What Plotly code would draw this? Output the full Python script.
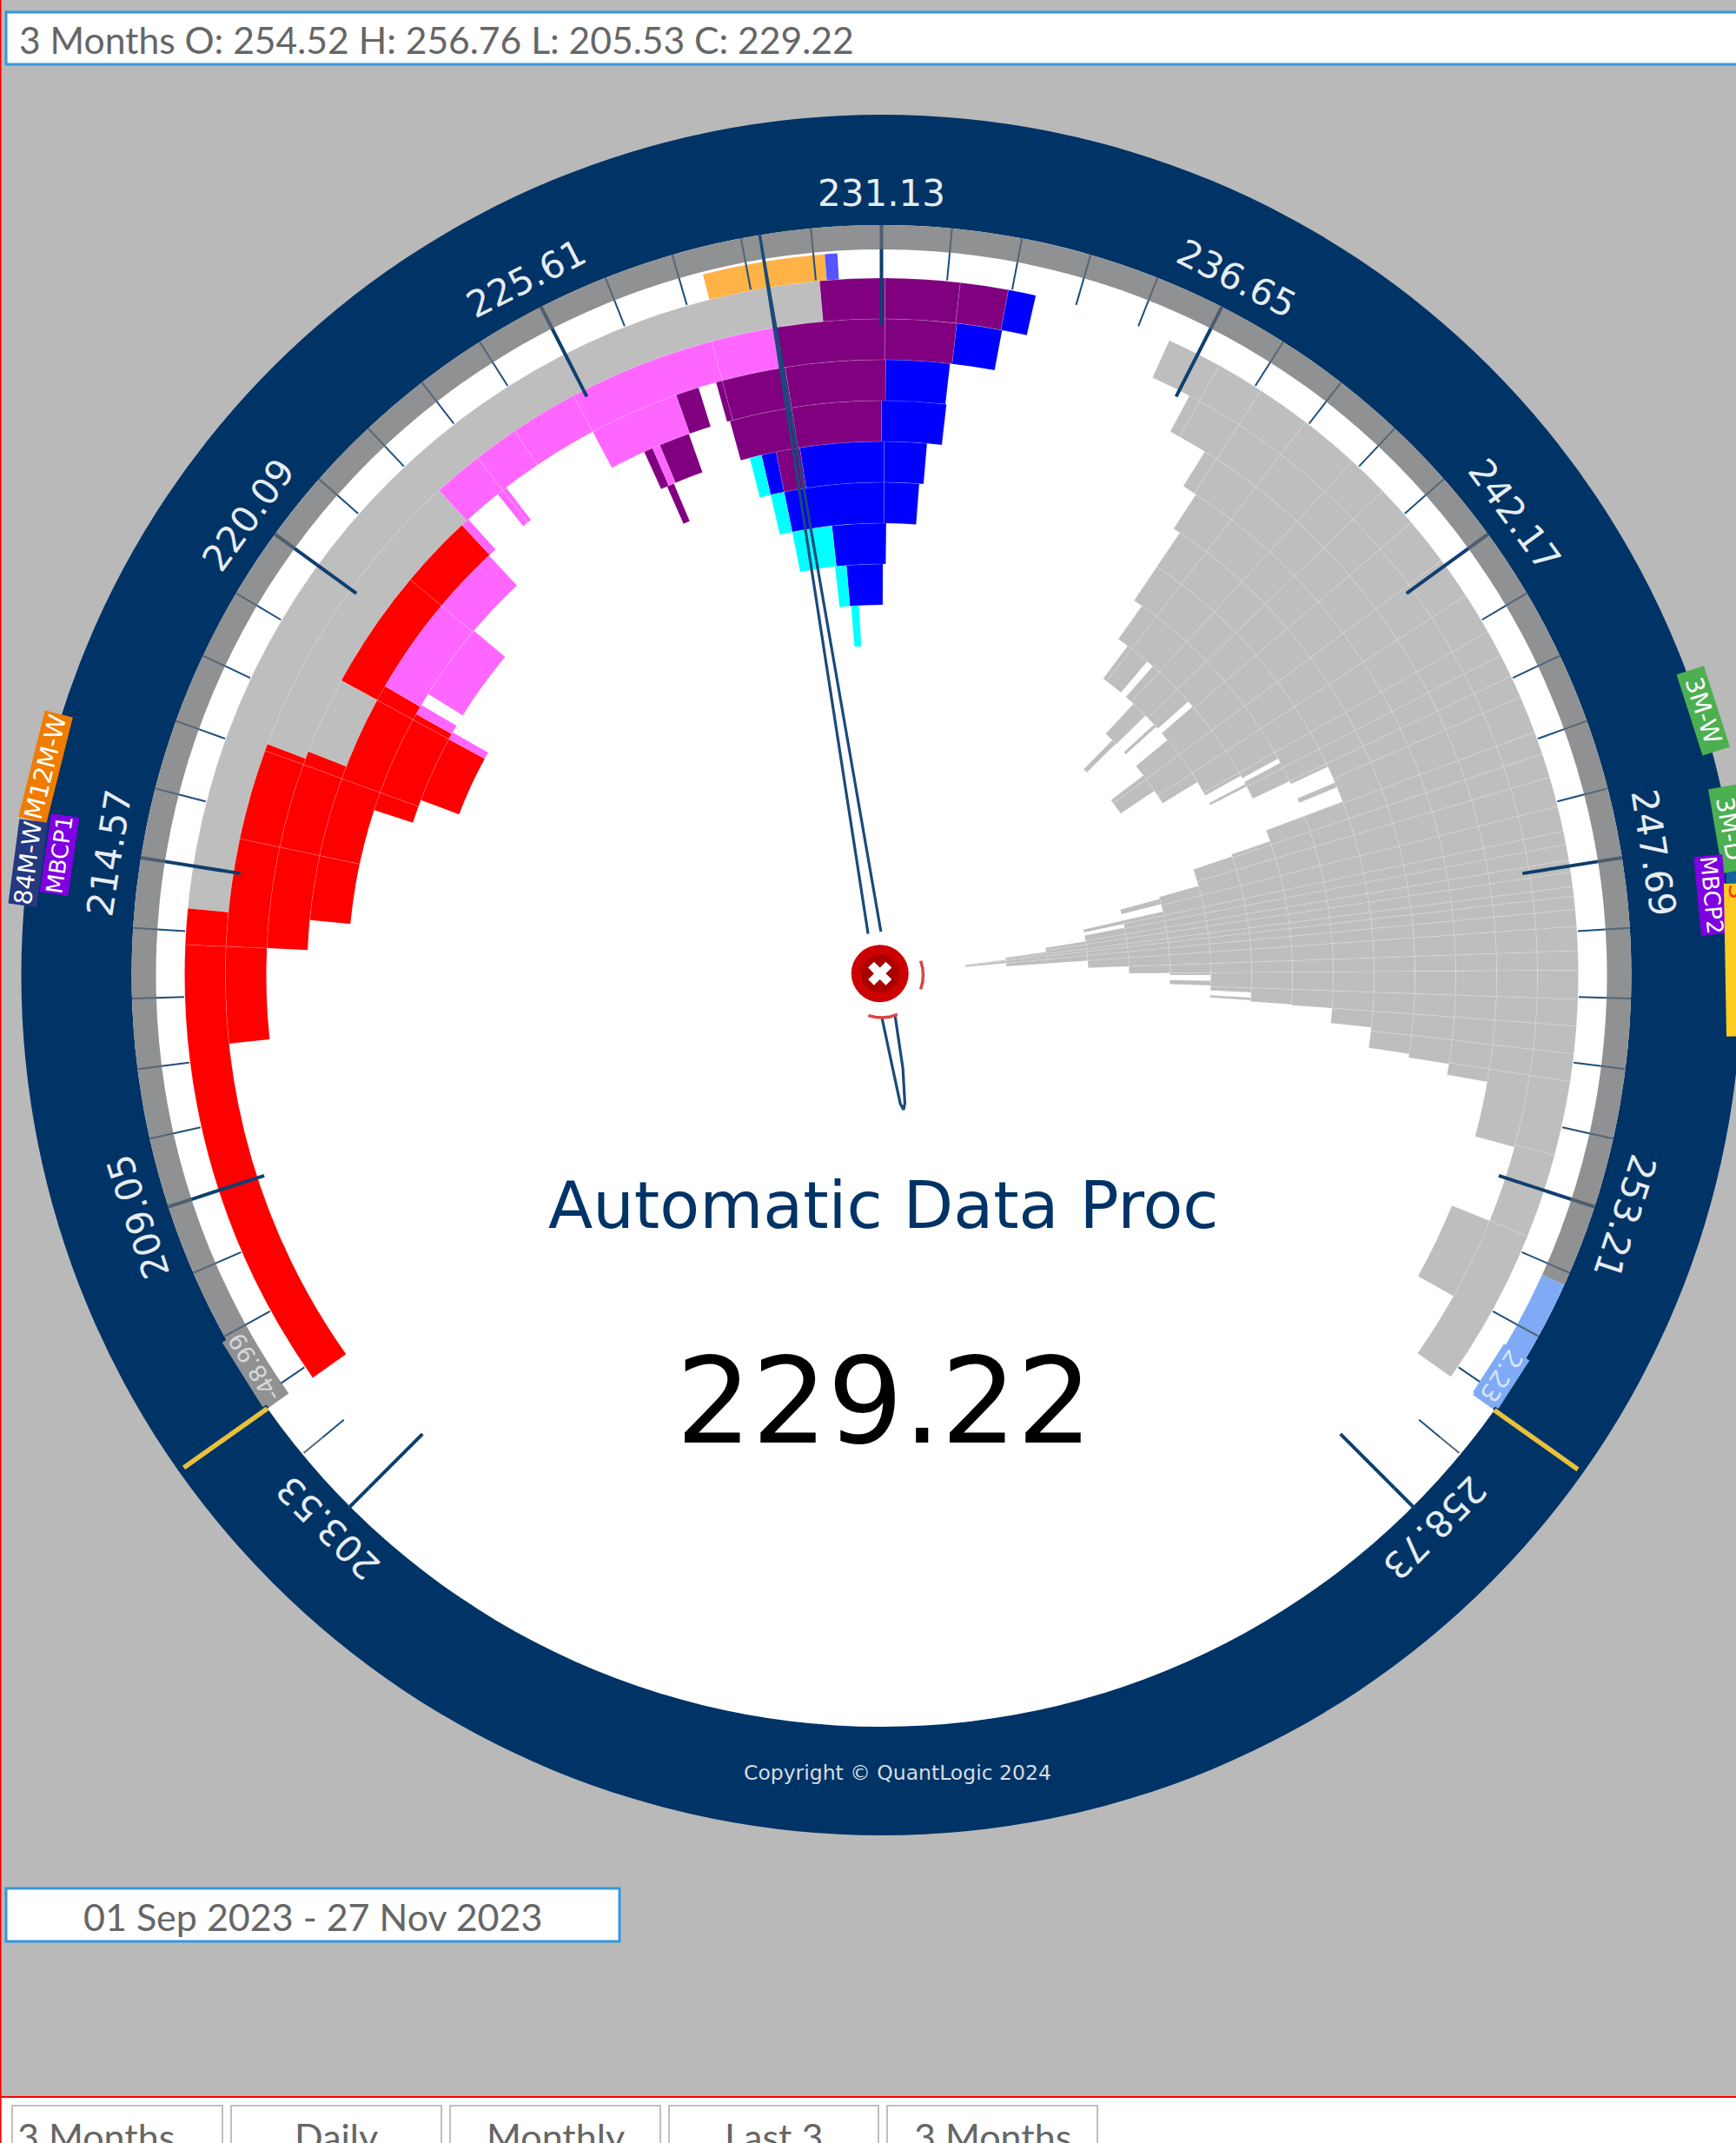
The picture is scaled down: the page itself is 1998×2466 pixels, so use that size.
import math
import plotly.graph_objects as go

W, H = 1998, 2466
CX, CY = 1014.5, 1122.0
R_AXIS = 983
R_RING = 990
R_DISC = 865
R_BAND = 863
ROW0_TOP = 802
ROW_H = 47

# price scale
PRICE_ZERO = 231.13
DEG_PER_PRICE = 27 / 5.52
MAJOR_PRICES = [203.53, 209.05, 214.57, 220.09, 225.61, 231.13, 236.65, 242.17, 247.69, 253.21, 258.73]
MAJOR_LABELS = ["203.53", "209.05", "214.57", "220.09", "225.61", "231.13", "236.65", "242.17", "247.69", "253.21", "258.73"]
OPEN, HIGH, LOW, CLOSE = 254.52, 256.76, 205.53, 229.22

# profile rows: {row: [(theta_start, theta_end), ...]}
GRAY = {
    0: [(-84.5, -5.1), (24.4, 125.2)],
    1: [(-69.4, -42.4), (28, 105.2), (112, 119.3)],
    2: [(-68.7, -61.4), (31.7, 100)],
    3: [(33.2, 98.9)],
    4: [(34, 98.5)],
    5: [(34, 65), (67, 67.6), (69.4, 96.1)],
    6: [(35.2, 61.4), (62, 64.6), (69.4, 94.2)],
    7: [(36.8, 40.3), (41.3, 48.3), (49.2, 61), (62.3, 62.7), (71, 94.1)],
    8: [(42.9, 45.5), (47.4, 47.9), (50.6, 58.6), (71.3, 92.7), (93.5, 93.9)],
    9: [(44.5, 45.4), (52.7, 56), (74.3, 90), (91, 91.8)],
    10: [(74.7, 75.8), (77.3, 89.6)],
    11: [(77.3, 78.1), (79, 88)],
    12: [(80.6, 86)],
    13: [(82, 86)],
    14: [(83, 84.5)],
}
RED = {
    0: [(-125.3, -84.5)],
    1: [(-96, -69.4)],
    2: [(-87.5, -68.7), (-61.4, -43)],
    3: [(-84.5, -59.8)],
    4: [(-72, -60.7)],
    5: [(-69.2, -61.4)],
}
MAGENTA = {
    1: [(-42.4, -9.2)],
    2: [(-43, -42.2), (-38.6, -37.6), (-28, -19.5)],
    3: [(-59.8, -43.1), (-23.5, -22.7)],
    4: [(-60.7, -59.6), (-58.2, -49.8)],
    5: [(-61.4, -60.5)],
}
PURPLE = {
    0: [(-5.1, 10.5)],
    1: [(-9.2, 6.6)],
    2: [(-19.5, -17.3), (-15.6, 0.4)],
    3: [(-24.4, -23.5), (-22.7, -19.6), (-15.3, 0)],
    4: [(-23.7, -22.9), (-11.4, -8.8)],
}
BLUE = {
    0: [(10.5, 12.8)],
    1: [(6.6, 10.6)],
    2: [(0.4, 6.4)],
    3: [(0, 6.5)],
    4: [(-13, -11.4), (-8.8, 4.9)],
    5: [(-11.4, 4.4)],
    6: [(-6.3, 0.6)],
    7: [(-4.9, 0.2)],
}
CYAN = {
    4: [(-14.3, -13)],
    5: [(-13, -11.4)],
    6: [(-11.4, -6.3)],
    7: [(-6.5, -4.9)],
    8: [(-4.7, -3.5)],
}
ORANGE_SPAN = [(-14.3, -4.5)]
VIOLET_SPAN = [(-4.5, -3.5)]

# column divisions visible inside the profile
GRID_THETA = [-87.5, -78, -70, -61.4, -50, -38, -34, -28, -15, -9, 0.3, 6.5,
              29, 33, 37.5, 42.5, 46, 49.5, 53.5, 57, 60.5, 62.7, 64.6, 66.5, 69.6, 71.5, 73.5, 76,
              78.1, 79.2, 80.5, 81.5, 82.7, 83.5, 84.6, 86, 88, 89.6, 92, 94.2, 96.5, 98.8, 105, 112]

TAGS = [
    ("M12M-W", -76.0, 991, "#f07c00", 28.5, 125),
    ("84M-W", -82.5, 991, "#24397f", 28, 97),
    ("MBCP1", -81.7, 956, "#7f00e0", 26, 90),
    ("3M-W", 72.2, 993, "#4caf50", 28, 97),
    ("3M-D", 80.2, 990, "#4caf50", 28, 97),
    ("MBCP2", 84.5, 960, "#7f00e0", 26, 90),
]


def px(theta, r):
    return CX + r * math.sin(math.radians(theta))


def py(theta, r):
    return CY - r * math.cos(math.radians(theta))


def ang(price):
    return (price - PRICE_ZERO) * DEG_PER_PRICE


def paper(x, y):
    return x / W, 1 - y / H


def split(a, b, grid):
    cuts = [a] + [g for g in grid if a + 0.3 < g < b - 0.3] + [b]
    return list(zip(cuts[:-1], cuts[1:]))


def profile_trace(rows, color, grid=GRID_THETA):
    th, wd, base, rr = [], [], [], []
    for k, spans in rows.items():
        for a, b in spans:
            for s, e in split(a, b, grid):
                th.append(((s + e) / 2) % 360)
                wd.append(e - s)
                base.append(ROW0_TOP - ROW_H * (k + 1))
                rr.append(ROW_H)
    return go.Barpolar(theta=th, width=wd, base=base, r=rr,
                       marker=dict(color=color, line=dict(color="rgba(255,255,255,0.2)", width=0.7)),
                       hoverinfo="skip", showlegend=False)


def band_trace(a, b, r0, r1, color):
    return go.Barpolar(theta=[((a + b) / 2) % 360], width=[b - a], base=[r0], r=[r1 - r0],
                       marker=dict(color=color, line=dict(width=0)), hoverinfo="skip", showlegend=False)


def line_trace(r, theta, color, width):
    return go.Scatterpolar(r=r, theta=theta, mode="lines", line=dict(color=color, width=width),
                           hoverinfo="skip", showlegend=False, connectgaps=False, cliponaxis=False)


fig = go.Figure()

# gauge bands, and the white disc's slightly larger open part at the bottom
fig.add_trace(band_trace(ang(HIGH), 360 + ang(LOW), R_BAND - 4, R_DISC, "#ffffff"))
fig.add_trace(band_trace(ang(LOW), ang(OPEN), 835, R_BAND, "#909192"))
fig.add_trace(band_trace(ang(OPEN), ang(HIGH), 835, R_BAND, "#7faaf5"))

GRAY_GRID = [g for g in GRID_THETA if g > 0]
fig.add_trace(profile_trace(GRAY, "#bebebe", GRAY_GRID))
for rows, col in [(RED, "#ff0000"), (MAGENTA, "#ff66ff"),
                  (PURPLE, "#800080"), (BLUE, "#0000ff"), (CYAN, "#00ffff")]:
    fig.add_trace(profile_trace(rows, col))
for a, b in ORANGE_SPAN:
    fig.add_trace(band_trace(a, b, ROW0_TOP, 832, "#ffb347"))
for a, b in VIOLET_SPAN:
    fig.add_trace(band_trace(a, b, ROW0_TOP, 832, "#5555ff"))

# ticks
maj_th = [ang(p) for p in MAJOR_PRICES]
min_th = [maj_th[0] + 5.4 * i for i in range(51) if i % 5 != 0]


def tick_seg(thetas, r0, r1):
    r, t = [], []
    for a in thetas:
        r += [r0, r1, None]
        t += [a, a, None]
    return r, t


def outside_band(th):
    return th < ang(LOW) or th > ang(HIGH)


r, t = tick_seg(min_th, 803, 835)
fig.add_trace(line_trace(r, t, "#1d4f7c", 2))
r, t = tick_seg(min_th, 835, R_BAND)
fig.add_trace(line_trace(r, t, "#566675", 2))
r, t = tick_seg(maj_th, 747, 835)
fig.add_trace(line_trace(r, t, "#0f3f6f", 4))
r, t = tick_seg([a for a in maj_th if not outside_band(a)], 835, R_BAND)
fig.add_trace(line_trace(r, t, "#4d5e6f", 4))
r, t = tick_seg([a for a in maj_th if outside_band(a)], 835, 868)
fig.add_trace(line_trace(r, t, "#0f3f6f", 4))

# high / low markers on the ring
for p in (LOW, HIGH):
    fig.add_trace(line_trace([R_DISC, R_AXIS], [ang(p), ang(p)], "#e8c23a", 5.5))

# needle
nd = ang(CLOSE)
fig.add_trace(line_trace([50, R_BAND, 50], [nd - 8.6, nd, nd + 8.6], "#1a4a7a", 3.2))
tail = nd + 180
fig.add_trace(line_trace([50, 110, 150, 157, 150, 110, 50],
                         [tail - 9, tail - 3.6, tail - 1, tail, tail + 1, tail + 2.4, tail + 8.5],
                         "#1a4a7a", 3.2))

# hub
fig.add_trace(line_trace([48] * 5, [70, 80, 90, 100, 110], "#dd4444", 3.5))
fig.add_trace(line_trace([49] * 5, [158, 168, 178, 188, 198], "#dd4444", 3.5))
fig.add_trace(go.Scatterpolar(r=[2.5, 2.5, 2.5], theta=[-45, -45, -45], mode="markers",
                              marker=dict(size=[66, 44, 24], color=["#cc0000", "#aa0000", "#ffffff"],
                                          symbol=["circle", "circle", "x"], line=dict(width=0), opacity=1),
                              hoverinfo="skip", showlegend=False))

# decorative page layout
shapes = []


def rect(x0, y0, x1, y1, fill, line=None, lw=0, layer="below"):
    shapes.append(dict(type="rect", xref="paper", yref="paper", x0=x0 / W, x1=x1 / W, y0=1 - y0 / H, y1=1 - y1 / H,
                       fillcolor=fill, line=dict(color=line or fill, width=lw), layer=layer))


def circle(r, fill):
    shapes.append(dict(type="circle", xref="paper", yref="paper", x0=(CX - r) / W, x1=(CX + r) / W,
                       y0=1 - (CY + r) / H, y1=1 - (CY - r) / H, fillcolor=fill, line=dict(width=0), layer="below"))


circle(R_RING, "#003366")
circle(R_BAND, "#ffffff")
rect(7, 14, 2010, 74, "#ffffff", "#3498db", 3)
rect(7, 2173, 713, 2234, "#ffffff", "#3498db", 3)
rect(0, 2414, W, H, "#ffffff")
rect(0, 2412, W, 2414, "#ff0000")
rect(0, 0, 1.6, H, "#ff0000")
BUTTON_X = [(14, 256), (266, 508), (518, 760), (770, 1011), (1021, 1263)]
for a, b in BUTTON_X:
    rect(a, 2423, b, 2480, "#ffffff", "#aaaaaa", 1.5)
rect(1987, 1002, 2000, 1016, "#12609f")

ann = []


def text(s, x, y, size, color, font="DejaVu Sans", angle=0, xanchor="center", **kw):
    X, Y = paper(x, y)
    ann.append(dict(text=s, x=X, y=Y, xref="paper", yref="paper", showarrow=False, xanchor=xanchor, yanchor="middle",
                    textangle=angle, font=dict(family=font, size=size, color=color), **kw))


for lab, th in zip(MAJOR_LABELS, maj_th):
    text(lab, px(th, 900), py(th, 900), 42, "#e6edf2", angle=th)

text("Automatic Data Proc", CX + 2.5, 1387, 75, "#003366")
text("229.22", CX + 3, 1612, 137, "#000000")
text("Copyright © QuantLogic 2024", 1033, 2040, 23.5, "#d6dde3")
text("-48.99", px(-122, 851), py(-122, 851), 27, "#d8d8d8", angle=-122, bgcolor="#909192", borderpad=0)
text("2.23", px(122.9, 850), py(122.9, 850), 29, "#d6e4ff", angle=122.9, bgcolor="#7faaf5", borderpad=0)
for s, th, rr, col, sz, wd in TAGS:
    text(s, px(th, rr), py(th, rr), sz, "#ffffff", angle=th, bgcolor=col, width=wd, height=32, borderpad=0)
text("S", 2001, 1105, 27, "#ff3300", angle=89, bgcolor="#ffcc22", width=175, height=30, align="left", borderpad=0)

LATO = "Lato"
text("3 Months O: 254.52 H: 256.76 L: 205.53 C: 229.22", 20, 45, 42.6, "#666666", LATO, xanchor="left")
text("01 Sep 2023 - 27 Nov 2023", 360, 2205, 43, "#666666", LATO)
BUTTON_LABELS = ["3 Months", "Daily", "Monthly", "Last 3", "3 Months"]
BUTTON_TEXT_X = [110, 387, 639, 890, 1142]
for s, x in zip(BUTTON_LABELS, BUTTON_TEXT_X):
    text(s, x, 2458, 43, "#666666", LATO)

fig.update_layout(
    width=W, height=H, margin=dict(l=0, r=0, t=0, b=0), autosize=False,
    paper_bgcolor="#b9b9b9", plot_bgcolor="#b9b9b9", showlegend=False,
    shapes=shapes, annotations=ann,
    polar=dict(
        domain=dict(x=[(CX - R_AXIS) / W, (CX + R_AXIS) / W],
                    y=[1 - (CY + R_AXIS) / H, 1 - (CY - R_AXIS) / H]),
        bgcolor="rgba(0,0,0,0)", barmode="overlay",
        radialaxis=dict(range=[0, R_AXIS], visible=False, showgrid=False),
        angularaxis=dict(rotation=90, direction="clockwise", visible=False, showgrid=False),
    ),
)

fig.write_html("out.html", config=dict(displayModeBar=False, staticPlot=True),
               post_script="document.body.style.margin='0';document.body.style.overflow='hidden';")
